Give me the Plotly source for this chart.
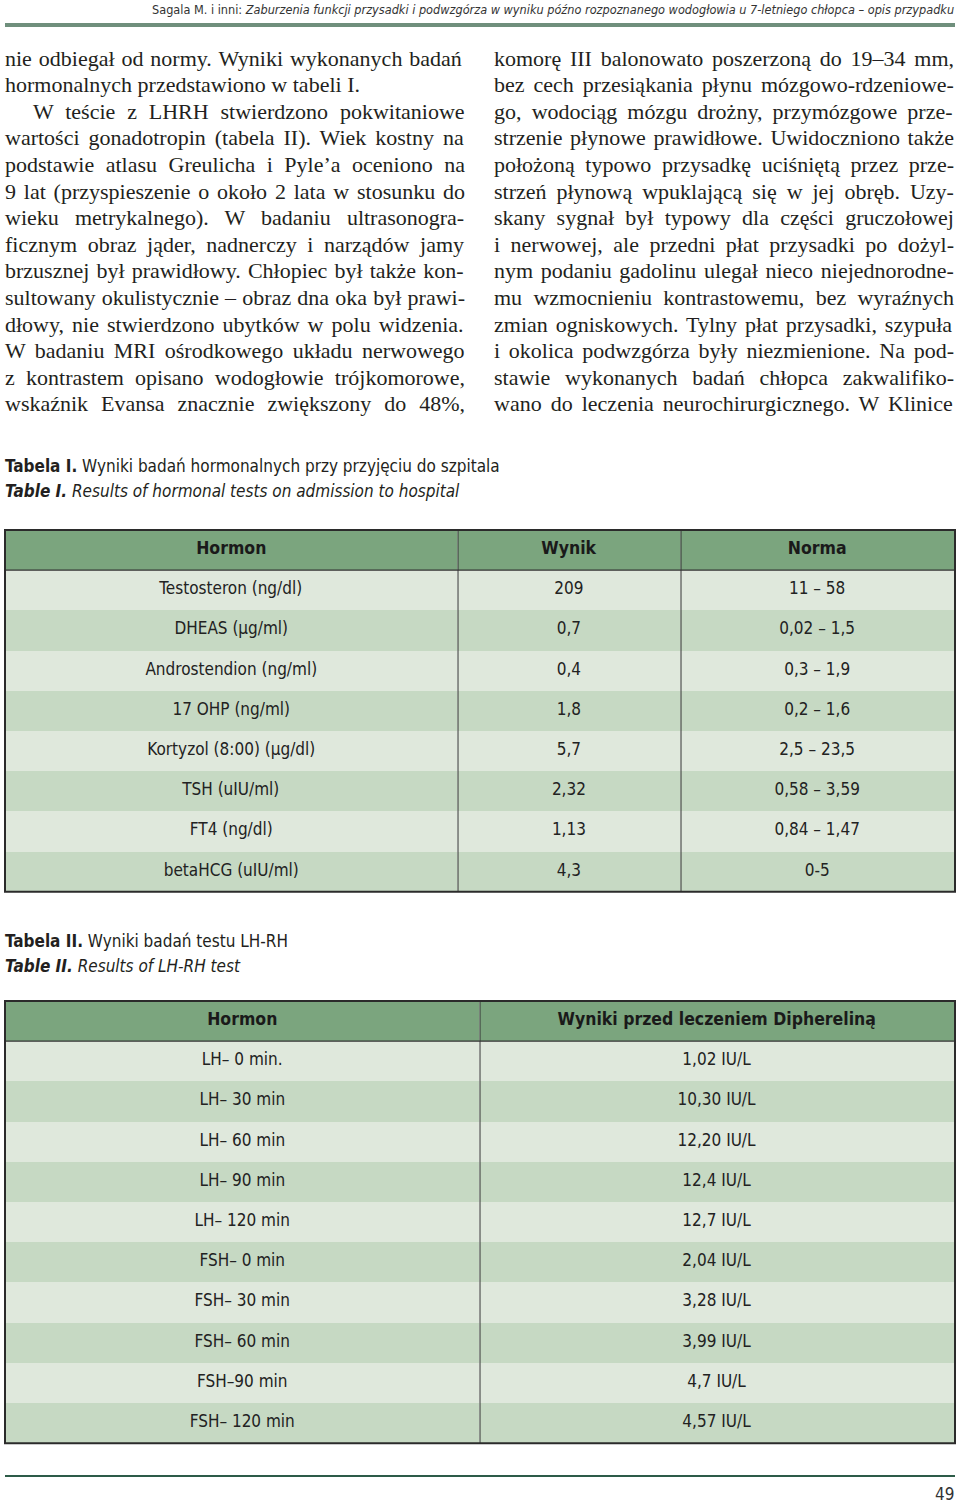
import plotly.graph_objects as go

W, H = 960, 1505

# ---- text of the page ----
head_author = "Sagala M. i inni: "
head_title = ("Zaburzenia funkcji przysadki i podwzgórza w wyniku późno "
              "rozpoznanego wodogłowia u 7-letniego chłopca – opis przypadku")
page_number = "49"

left_lines = [
    "nie odbiegał od normy. Wyniki wykonanych badań",
    "hormonalnych przedstawiono w tabeli I.",
    "W teście z LHRH stwierdzono pokwitaniowe",
    "wartości gonadotropin (tabela II). Wiek kostny na",
    "podstawie atlasu Greulicha i Pyle’a oceniono na",
    "9 lat (przyspieszenie o około 2 lata w stosunku do",
    "wieku metrykalnego). W badaniu ultrasonogra-",
    "ficznym obraz jąder, nadnerczy i narządów jamy",
    "brzusznej był prawidłowy. Chłopiec był także kon-",
    "sultowany okulistycznie – obraz dna oka był prawi-",
    "dłowy, nie stwierdzono ubytków w polu widzenia.",
    "W badaniu MRI ośrodkowego układu nerwowego",
    "z kontrastem opisano wodogłowie trójkomorowe,",
    "wskaźnik Evansa znacznie zwiększony do 48%,",
]
right_lines = [
    "komorę III balonowato poszerzoną do 19–34 mm,",
    "bez cech przesiąkania płynu mózgowo-rdzeniowe-",
    "go, wodociąg mózgu drożny, przymózgowe prze-",
    "strzenie płynowe prawidłowe. Uwidoczniono także",
    "położoną typowo przysadkę uciśniętą przez prze-",
    "strzeń płynową wpuklającą się w jej obręb. Uzy-",
    "skany sygnał był typowy dla części gruczołowej",
    "i nerwowej, ale przedni płat przysadki po dożyl-",
    "nym podaniu gadolinu ulegał nieco niejednorodne-",
    "mu wzmocnieniu kontrastowemu, bez wyraźnych",
    "zmian ogniskowych. Tylny płat przysadki, szypuła",
    "i okolica podwzgórza były niezmienione. Na pod-",
    "stawie wykonanych badań chłopca zakwalifiko-",
    "wano do leczenia neurochirurgicznego. W Klinice",
]
left_para_end = {1}      # lines that are not justified
left_indent = {2}        # first line of a paragraph

# ---- table I ----
t1_label_pl, t1_title_pl = "Tabela I.", "Wyniki badań hormonalnych przy przyjęciu do szpitala"
t1_label_en, t1_title_en = "Table I.", "Results of hormonal tests on admission to hospital"
t1_header = ["Hormon", "Wynik", "Norma"]
hormones = ["Testosteron (ng/dl)", "DHEAS (μg/ml)", "Androstendion (ng/ml)",
            "17 OHP (ng/ml)", "Kortyzol (8:00) (μg/dl)", "TSH (uIU/ml)",
            "FT4 (ng/dl)", "betaHCG (uIU/ml)"]
wynik = ["209", "0,7", "0,4", "1,8", "5,7", "2,32", "1,13", "4,3"]
norma = ["11 – 58", "0,02 – 1,5", "0,3 – 1,9", "0,2 – 1,6", "2,5 – 23,5",
         "0,58 – 3,59", "0,84 – 1,47", "0-5"]

# ---- table II ----
t2_label_pl, t2_title_pl = "Tabela II.", "Wyniki badań testu LH-RH"
t2_label_en, t2_title_en = "Table II.", "Results of LH-RH test"
t2_header = ["Hormon", "Wyniki przed leczeniem Diphereliną"]
lh_tests = ["LH– 0 min.", "LH– 30 min", "LH– 60 min", "LH– 90 min", "LH– 120 min",
            "FSH– 0 min", "FSH– 30 min", "FSH– 60 min", "FSH–90 min", "FSH– 120 min"]
lh_results = ["1,02 IU/L", "10,30 IU/L", "12,20 IU/L", "12,4 IU/L", "12,7 IU/L",
              "2,04 IU/L", "3,28 IU/L", "3,99 IU/L", "4,7 IU/L", "4,57 IU/L"]

# ---- styles ----
SERIF = "Liberation Serif, Times New Roman, serif"
NARROW = "DejaVu Sans Condensed, Arial Narrow, sans-serif"
INK = "#231f20"
HEAD_GREEN = "#7ba57e"
ROW_LIGHT = "#dfe8dc"
ROW_DARK = "#c6d9c3"
BODY_SIZE = 22

# Times advance widths (1/1000 em) for justification
TW = {" ": 250, ".": 250, ",": 250, ":": 278, "-": 333, "–": 500, "(": 333, ")": 333,
      "’": 333, "%": 833, "a": 444, "b": 500, "c": 444, "d": 500, "e": 444, "f": 333,
      "g": 500, "h": 500, "i": 278, "j": 278, "k": 500, "l": 278, "m": 778, "n": 500,
      "o": 500, "p": 500, "q": 500, "r": 333, "s": 389, "t": 278, "u": 500, "v": 500,
      "w": 722, "x": 500, "y": 500, "z": 444, "ą": 444, "ć": 444, "ę": 444, "ł": 278,
      "ń": 500, "ó": 500, "ś": 389, "ź": 444, "ż": 444,
      "A": 722, "B": 667, "C": 667, "D": 722, "E": 611, "F": 556, "G": 722, "H": 722,
      "I": 333, "K": 722, "L": 611, "M": 889, "N": 722, "P": 556, "R": 667, "S": 556,
      "T": 611, "U": 722, "W": 944, "Z": 611}


def text_width(s, size):
    return sum(TW.get(ch, 500) for ch in s) * size / 1000.0


fig = go.Figure()
annotations = []


def add_text(x, y, text, size, family, anchor="left", color=INK):
    annotations.append(dict(x=x, y=y, xref="x", yref="y", text=text, showarrow=False,
                            xanchor=anchor, yanchor="middle", borderpad=0,
                            font=dict(size=size, family=family, color=color)))


# body columns
col_w = 460
line_y0, line_dy = 58, 26.6
for col_x, lines, ends, indents in [(4, left_lines, left_para_end, left_indent),
                                    (493, right_lines, set(), set())]:
    for i, line in enumerate(lines):
        ind = 28 if i in indents else 0
        txt = line
        if i not in ends:
            gaps = line.count(" ")
            extra = (col_w - ind - text_width(line, BODY_SIZE)) / max(gaps, 1)
            txt = '<span style="word-spacing:%.2fpx">%s</span>' % (extra, line)
        add_text(col_x + ind, line_y0 + i * line_dy, txt, BODY_SIZE, SERIF)

# running head and page number
add_text(955, 9, head_author + "<i>" + head_title + "</i>", 12.6, NARROW, "right", "#333")
add_text(955, 1494, page_number, 17, NARROW, "right", "#333")

# captions
CAP = 17
add_text(4, 466, "<b>%s</b> %s" % (t1_label_pl, t1_title_pl), CAP, NARROW)
add_text(4, 491, "<b><i>%s</i></b><i> %s</i>" % (t1_label_en, t1_title_en), CAP, NARROW)
add_text(4, 941, "<b>%s</b> %s" % (t2_label_pl, t2_title_pl), CAP, NARROW)
add_text(4, 966, "<b><i>%s</i></b><i> %s</i>" % (t2_label_en, t2_title_en), CAP, NARROW)

ROW_H = 40.2


def add_table(columns, header, widths, x0, x1, top):
    n = len(columns[0])
    fills = [[ROW_LIGHT if r % 2 == 0 else ROW_DARK for r in range(n)] for _ in columns]
    bottom = top + ROW_H * (n + 1)
    fig.add_trace(go.Table(
        domain=dict(x=[x0 / W, x1 / W], y=[1 - (bottom + 20) / H, 1 - top / H]),
        columnwidth=widths,
        header=dict(values=["<b>%s</b>" % h for h in header], height=ROW_H,
                    fill_color=HEAD_GREEN, line=dict(width=0),
                    align="center", font=dict(size=17.5, family=NARROW, color="#1a1a1a")),
        cells=dict(values=[["<span>%s</span>" % v for v in col] for col in columns],
                   height=ROW_H, fill=dict(color=fills),
                   line=dict(width=0), align="center",
                   font=dict(size=17, family=NARROW, color="#222"))))
    shapes = []
    tot = float(sum(widths))
    acc = 0
    for w in widths[:-1]:
        acc += w
        xs = x0 + (x1 - x0) * acc / tot
        shapes.append(dict(type="line", x0=xs, x1=xs, y0=top, y1=bottom,
                           line=dict(color="#333", width=1)))
    shapes.append(dict(type="line", x0=x0, x1=x1, y0=top + ROW_H, y1=top + ROW_H,
                       line=dict(color="#333", width=1.2)))
    shapes.append(dict(type="rect", x0=x0, x1=x1, y0=top, y1=bottom,
                       line=dict(color="#2b2b2b", width=2)))
    return shapes


shapes = []
shapes += add_table([hormones, wynik, norma], t1_header, [453, 223, 274], 5, 955, 530)
shapes += add_table([lh_tests, lh_results], t2_header, [475, 475], 5, 955, 1001)

# rules
shapes.append(dict(type="line", x0=5, x1=955, y0=25, y1=25,
                   line=dict(color="#6f8f7c", width=4)))
shapes.append(dict(type="line", x0=5, x1=955, y0=1476, y1=1476,
                   line=dict(color="#2d5b48", width=2)))
for s in shapes:
    s.update(xref="x", yref="y", layer="above")

fig.update_layout(
    width=W, height=H, margin=dict(l=0, r=0, t=0, b=0),
    paper_bgcolor="white", plot_bgcolor="white", showlegend=False,
    xaxis=dict(range=[0, W], visible=False, fixedrange=True),
    yaxis=dict(range=[H, 0], visible=False, fixedrange=True),
    annotations=annotations, shapes=shapes,
)
fig.write_html("out.html", config={"displayModeBar": False},
               post_script="document.body.style.margin='0';"
                           "document.body.style.overflow='hidden';")
